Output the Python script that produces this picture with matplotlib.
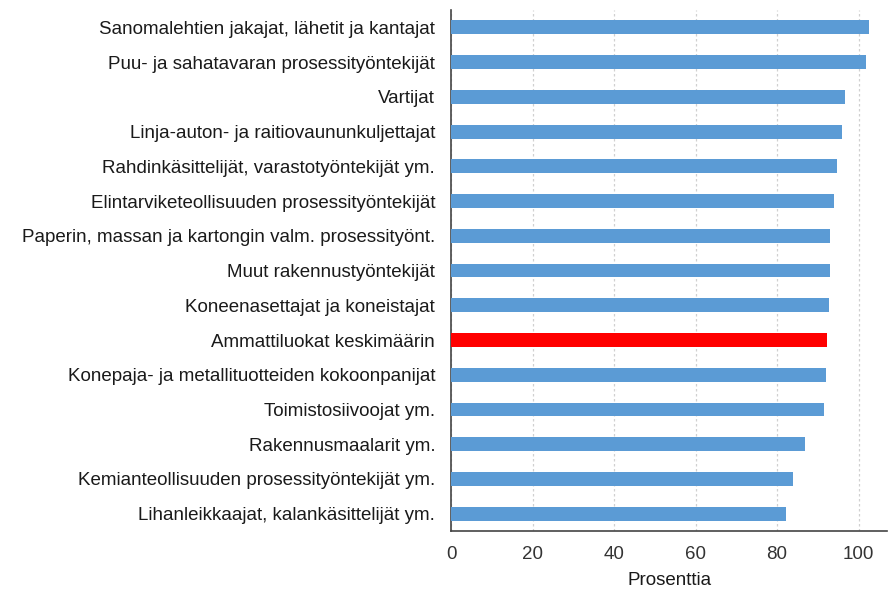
import matplotlib.pyplot as plt

# occupations, top to bottom
labels = [
    "Sanomalehtien jakajat, lähetit ja kantajat",
    "Puu- ja sahatavaran prosessityöntekijät",
    "Vartijat",
    "Linja-auton- ja raitiovaununkuljettajat",
    "Rahdinkäsittelijät, varastotyöntekijät ym.",
    "Elintarviketeollisuuden prosessityöntekijät",
    "Paperin, massan ja kartongin valm. prosessityönt.",
    "Muut rakennustyöntekijät",
    "Koneenasettajat ja koneistajat",
    "Ammattiluokat keskimäärin",
    "Konepaja- ja metallituotteiden kokoonpanijat",
    "Toimistosiivoojat ym.",
    "Rakennusmaalarit ym.",
    "Kemianteollisuuden prosessityöntekijät ym.",
    "Lihanleikkaajat, kalankäsittelijät ym.",
]
values = [102.5, 101.8, 96.6, 95.9, 94.7, 93.9, 93.1, 93.1, 92.7, 92.3,
          92.0, 91.5, 86.8, 84.0, 82.1]
highlight = "Ammattiluokat keskimäärin"

plt.rcParams["font.family"] = ["Liberation Sans", "DejaVu Sans"]

fig = plt.figure(figsize=(8.88, 5.92), dpi=100)
ax = fig.add_axes([0.508, 0.103, 0.491, 0.880])

ypos = list(range(len(labels)))[::-1]
colors = ["#FF0000" if l == highlight else "#5B9BD5" for l in labels]
ax.barh(ypos, values, height=0.4, color=colors, zorder=3)

ax.set_yticks(ypos)
ax.set_yticklabels(labels, fontsize=13.5, color="#1a1a1a")
ax.set_ylim(-0.5, len(labels) - 0.5)

ax.set_xlim(0, 107)
ax.set_xticks([0, 20, 40, 60, 80, 100])
ax.tick_params(axis="x", labelsize=13.5, length=0, pad=10.5, colors="#333333")
ax.tick_params(axis="y", length=0, pad=11.5)
ax.set_xlabel("Prosenttia", fontsize=13.5, color="#1a1a1a", labelpad=7)

ax.xaxis.grid(True, linestyle=(0, (2, 2)), color="#d0d0d0", linewidth=0.9, zorder=0)
for s in ["top", "right"]:
    ax.spines[s].set_visible(False)
for s in ["left", "bottom"]:
    ax.spines[s].set_color("#444444")
    ax.spines[s].set_linewidth(1.2)

fig.savefig("out.png", dpi=100)
